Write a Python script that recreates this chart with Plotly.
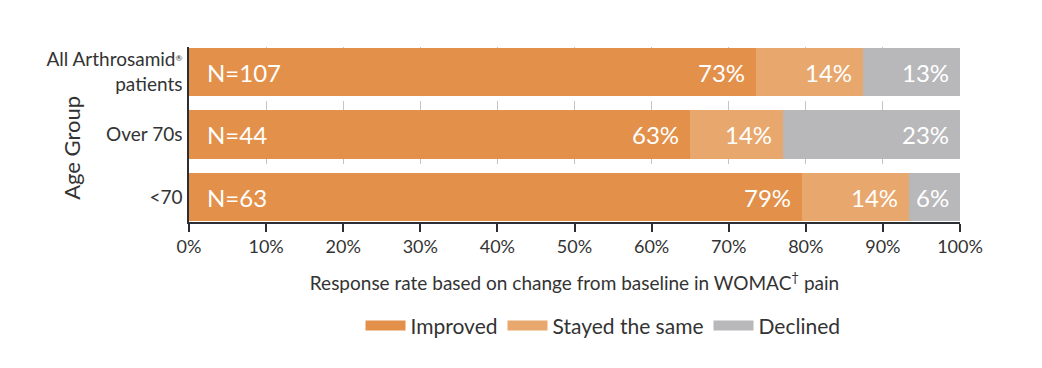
import plotly.graph_objects as go

categories = ['All Arthrosamid<span style="font-size:12px"><sup>®</sup></span><br>patients', "Over 70s", "<70"]
n_labels = ["N=107", "N=44", "N=63"]
improved = [73.6, 65.0, 79.5]
stayed = [13.8, 12.0, 13.9]
declined = [12.6, 23.0, 6.6]
improved_lbl = ["73%", "63%", "79%"]
stayed_lbl = ["14%", "14%", "14%"]
declined_lbl = ["13%", "23%", "6%"]
x_ticks = list(range(0, 101, 10))
x_ticklabels = [f"{v}%" for v in x_ticks]

series = [
    ("Improved", improved, improved_lbl, "#E3904A"),
    ("Stayed the same", stayed, stayed_lbl, "#E8A76D"),
    ("Declined", declined, declined_lbl, "#B8B8BB"),
]

FONT = "Lato"
fig = go.Figure()
for name, vals, lbls, col in series:
    fig.add_trace(go.Bar(
        y=categories, x=vals, name=name, orientation="h",
        marker=dict(color=col, line=dict(width=0)),
        hoverinfo="skip", showlegend=False,
    ))
# legend entries with wide swatches
for name, vals, lbls, col in series:
    fig.add_trace(go.Scatter(
        x=[None], y=[None], mode="lines", name=name,
        line=dict(color=col, width=16), hoverinfo="skip",
    ))

annotations = []
cum = [0.0] * len(categories)
for name, vals, lbls, col in series:
    for i, (v, l) in enumerate(zip(vals, lbls)):
        cum[i] += v
        annotations.append(dict(
            x=cum[i], y=categories[i], xref="x", yref="y", text=l,
            showarrow=False, xanchor="right", xshift=-9,
            font=dict(family=FONT, size=24, color="white"),
        ))
for i, t in enumerate(n_labels):
    annotations.append(dict(
        x=0, y=categories[i], xref="x", yref="y", text=t,
        showarrow=False, xanchor="left", xshift=16,
        font=dict(family=FONT, size=24, color="white"),
    ))
annotations.append(dict(
    x=-0.152, y=0.423, xref="paper", yref="paper", text="Age Group",
    textangle=-90, showarrow=False, xanchor="center", yanchor="middle",
    font=dict(family=FONT, size=22, color="#333333"),
))

fig.update_layout(
    width=1026, height=352,
    margin=dict(l=181, r=74, t=39, b=138),
    barmode="stack", bargap=0.22,
    plot_bgcolor="white", paper_bgcolor="white",
    font=dict(family=FONT, color="#333333"),
    annotations=annotations,
    showlegend=True,
    legend=dict(orientation="h", x=0.537, xanchor="center", y=-0.594, yanchor="middle",
                font=dict(family=FONT, size=21, color="#333333"),
                itemwidth=40, traceorder="normal"),
    xaxis=dict(
        range=[0, 100], tickvals=x_ticks, ticktext=x_ticklabels,
        ticks="outside", ticklen=8, tickcolor="#2b2f33", tickwidth=1.5,
        showline=True, linecolor="#2b2f33", linewidth=1.5,
        showgrid=True, gridcolor="#c4c4c4", griddash="dash", gridwidth=1,
        zeroline=False,
        tickfont=dict(family=FONT, size=18, color="#333333"),
        title=dict(text="Response rate based on change from baseline in WOMAC<sup>†</sup> pain",
                   font=dict(family=FONT, size=19, color="#333333"), standoff=20),
        layer="below traces",
    ),
    yaxis=dict(
        autorange=False, range=[2.4, -0.4], type="category",
        showline=True, linecolor="#2b2f33", linewidth=1.5,
        ticks="outside", ticklen=1, tickcolor="rgba(0,0,0,0)",
        showgrid=False, zeroline=False,
        tickfont=dict(family=FONT, size=19, color="#333333"),
    ),
)

fig.write_html("out.html")
